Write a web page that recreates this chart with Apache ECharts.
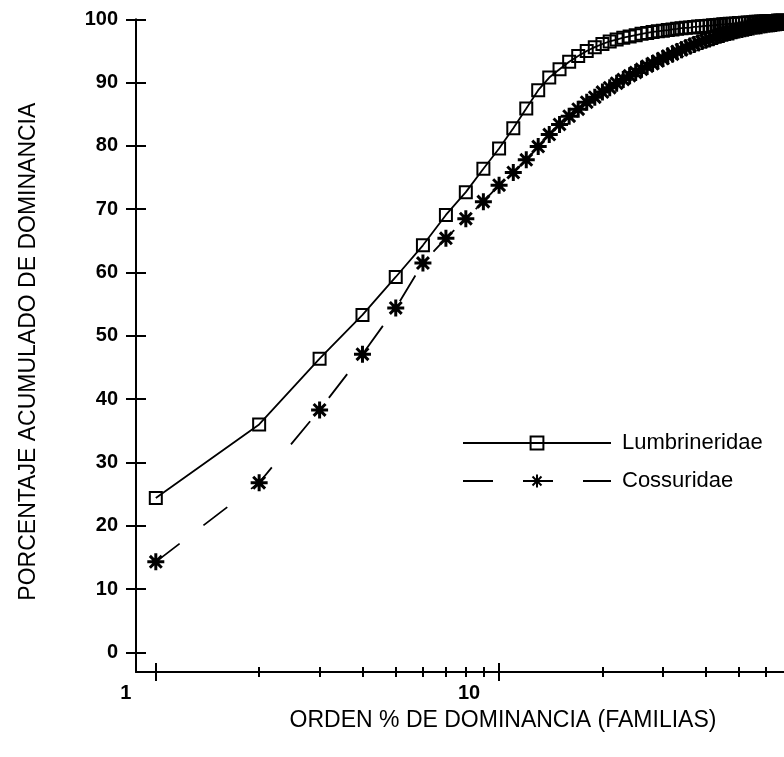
<!DOCTYPE html>
<html>
<head>
<meta charset="utf-8">
<script src="https://cdn.jsdelivr.net/npm/echarts@6/dist/echarts.min.js"></script>
<style>
  html, body { margin: 0; padding: 0; background: #fff; }
  #main { width: 784px; height: 757px; }
</style>
</head>
<body>
<div id="main"></div>
<script>
// rango (orden) de cada familia
var ranks = [
  1, 2, 3, 4, 5, 6, 7, 8, 9, 10,
  11, 12, 13, 14, 15, 16, 17, 18, 19, 20,
  21, 22, 23, 24, 25, 26, 27, 28, 29, 30,
  31, 32, 33, 34, 35, 36, 37, 38, 39, 40,
  41, 42, 43, 44, 45, 46, 47, 48, 49, 50,
  51, 52, 53, 54, 55, 56, 57, 58, 59, 60,
  61, 62, 63, 64, 65, 66, 67, 68
];

// porcentaje acumulado - Lumbrineridae
var lumbrineridae = [
  24.4, 36.0, 46.4, 53.3, 59.3, 64.3, 69.1, 72.7, 76.4, 79.6,
  82.8, 85.9, 88.8, 90.8, 92.1, 93.3, 94.2, 95.0, 95.6, 96.1,
  96.5, 96.8, 97.1, 97.3, 97.5, 97.7, 97.85, 98.0, 98.1, 98.2,
  98.3, 98.4, 98.5, 98.6, 98.65, 98.7, 98.8, 98.85, 98.9, 98.95,
  99.0, 99.05, 99.1, 99.15, 99.2, 99.25, 99.3, 99.3, 99.35, 99.4,
  99.4, 99.45, 99.5, 99.5, 99.55, 99.6, 99.6, 99.65, 99.65, 99.7,
  99.7, 99.7, 99.75, 99.75, 99.8, 99.8, 99.8, 99.85
];

// porcentaje acumulado - Cossuridae
var cossuridae = [
  14.3, 26.8, 38.3, 47.1, 54.4, 61.5, 65.4, 68.5, 71.2, 73.8,
  75.8, 77.8, 79.9, 81.8, 83.4, 84.7, 85.8, 86.9, 87.7, 88.5,
  89.2, 89.9, 90.5, 91.1, 91.6, 92.1, 92.6, 93.0, 93.4, 93.8,
  94.2, 94.5, 94.9, 95.2, 95.5, 95.8, 96.0, 96.3, 96.5, 96.7,
  96.9, 97.1, 97.3, 97.5, 97.6, 97.8, 97.9, 98.0, 98.2, 98.3,
  98.4, 98.5, 98.6, 98.7, 98.8, 98.9, 98.95, 99.0, 99.1, 99.15,
  99.2, 99.25, 99.3, 99.35, 99.4, 99.45, 99.5, 99.5
];

// marcas del eje
var yTicks = [0, 10, 20, 30, 40, 50, 60, 70, 80, 90, 100];
var xMajor = [1, 10];
var xMinor = [2, 3, 4, 5, 6, 7, 8, 9, 20, 30, 40, 50, 60];

var X_MIN = 0.8756;
var X_MAX = 67.6;
var Y_MIN = -3.1;
var FONT = '"Liberation Sans", Arial, sans-serif';

var starPath = 'path://M0,5L10,5M5,0L5,10M1.5,1.5L8.5,8.5M8.5,1.5L1.5,8.5';

function toPairs(vals) {
  return ranks.map(function (r, i) { return [r, vals[i]]; });
}
function logs(arr) {
  return arr.map(function (v) { return Math.log10(v); });
}

// eje auxiliar (en escala log10) solo para dibujar las marcas
function tickAxis(values, len, inside, labels) {
  return {
    type: 'value',
    gridIndex: 0,
    position: 'bottom',
    min: Math.log10(X_MIN),
    max: Math.log10(X_MAX),
    axisLine: { show: false, onZero: false },
    splitLine: { show: false },
    axisTick: {
      show: true,
      inside: inside,
      length: len,
      customValues: logs(values),
      lineStyle: { color: '#000', width: 2 }
    },
    axisLabel: labels ? {
      show: true,
      customValues: logs(values),
      formatter: function (v) { return String(Math.round(Math.pow(10, v))); },
      margin: 11,
      padding: [0, 60, 0, 0],
      color: '#000',
      fontFamily: FONT,
      fontSize: 20,
      fontWeight: 'bold'
    } : { show: false }
  };
}

var myChart = echarts.init(document.getElementById('main'));

var option = {
  backgroundColor: '#fff',
  animation: false,
  grid: { left: 136, right: 0, top: 19.3, bottom: 85, containLabel: false },
  legend: {
    orient: 'vertical',
    left: 457,
    top: 427,
    itemWidth: 148,
    itemHeight: 16,
    itemGap: 16,
    textStyle: { color: '#000', fontFamily: FONT, fontSize: 22, padding: [0, 0, 0, 6] },
    data: ['Lumbrineridae', 'Cossuridae']
  },
  xAxis: [
    {
      type: 'log',
      logBase: 10,
      min: X_MIN,
      max: X_MAX,
      axisLine: { show: true, onZero: false, lineStyle: { color: '#000', width: 2 } },
      axisTick: { show: false },
      axisLabel: { show: false },
      splitLine: { show: false },
      name: 'ORDEN % DE DOMINANCIA (FAMILIAS)',
      nameLocation: 'middle',
      nameGap: 37,
      nameMoveOverlap: false,
      nameTextStyle: {
        color: '#000', fontFamily: FONT, fontSize: 23,
        padding: [0, 0, 0, 86]
      }
    },
    tickAxis(xMajor, 9, false, true),
    tickAxis(xMajor, 9, true, false),
    tickAxis(xMinor, 5, false, false),
    tickAxis(xMinor, 5, true, false)
  ],
  yAxis: [
    {
      type: 'value',
      min: Y_MIN,
      max: 100,
      axisLine: { show: true, onZero: false, lineStyle: { color: '#000', width: 2 } },
      axisTick: { show: true, length: 10, customValues: yTicks, lineStyle: { color: '#000', width: 2 } },
      axisLabel: {
        customValues: yTicks,
        margin: 18,
        color: '#000',
        fontFamily: FONT,
        fontSize: 20,
        fontWeight: 'bold'
      },
      splitLine: { show: false },
      name: 'PORCENTAJE ACUMULADO DE DOMINANCIA',
      nameLocation: 'middle',
      nameGap: 96,
      nameMoveOverlap: false,
      nameTextStyle: { color: '#000', fontFamily: FONT, fontSize: 23, padding: [0, 12, 0, 0] }
    },
    {
      type: 'value',
      min: Y_MIN,
      max: 100,
      position: 'left',
      axisLine: { show: false, onZero: false },
      axisTick: { show: true, inside: true, length: 10, customValues: yTicks, lineStyle: { color: '#000', width: 2 } },
      axisLabel: { show: false },
      splitLine: { show: false }
    }
  ],
  series: [
    {
      name: 'Lumbrineridae',
      type: 'line',
      xAxisIndex: 0,
      yAxisIndex: 0,
      data: toPairs(lumbrineridae),
      symbol: 'rect',
      symbolSize: 12,
      lineStyle: { color: '#000', width: 1.8, type: 'solid' },
      itemStyle: { color: 'rgba(0,0,0,0)', borderColor: '#000', borderWidth: 2 }
    },
    {
      name: 'Cossuridae',
      type: 'line',
      xAxisIndex: 0,
      yAxisIndex: 0,
      data: toPairs(cossuridae),
      symbol: starPath,
      symbolSize: 17,
      lineStyle: { color: '#000', width: 1.8, type: [30, 30] },
      itemStyle: { color: '#000', borderColor: '#000', borderWidth: 3 }
    }
  ]
};

myChart.setOption(option);

window.addEventListener('resize', function () {
  myChart.resize();
});
</script>
</body>
</html>
